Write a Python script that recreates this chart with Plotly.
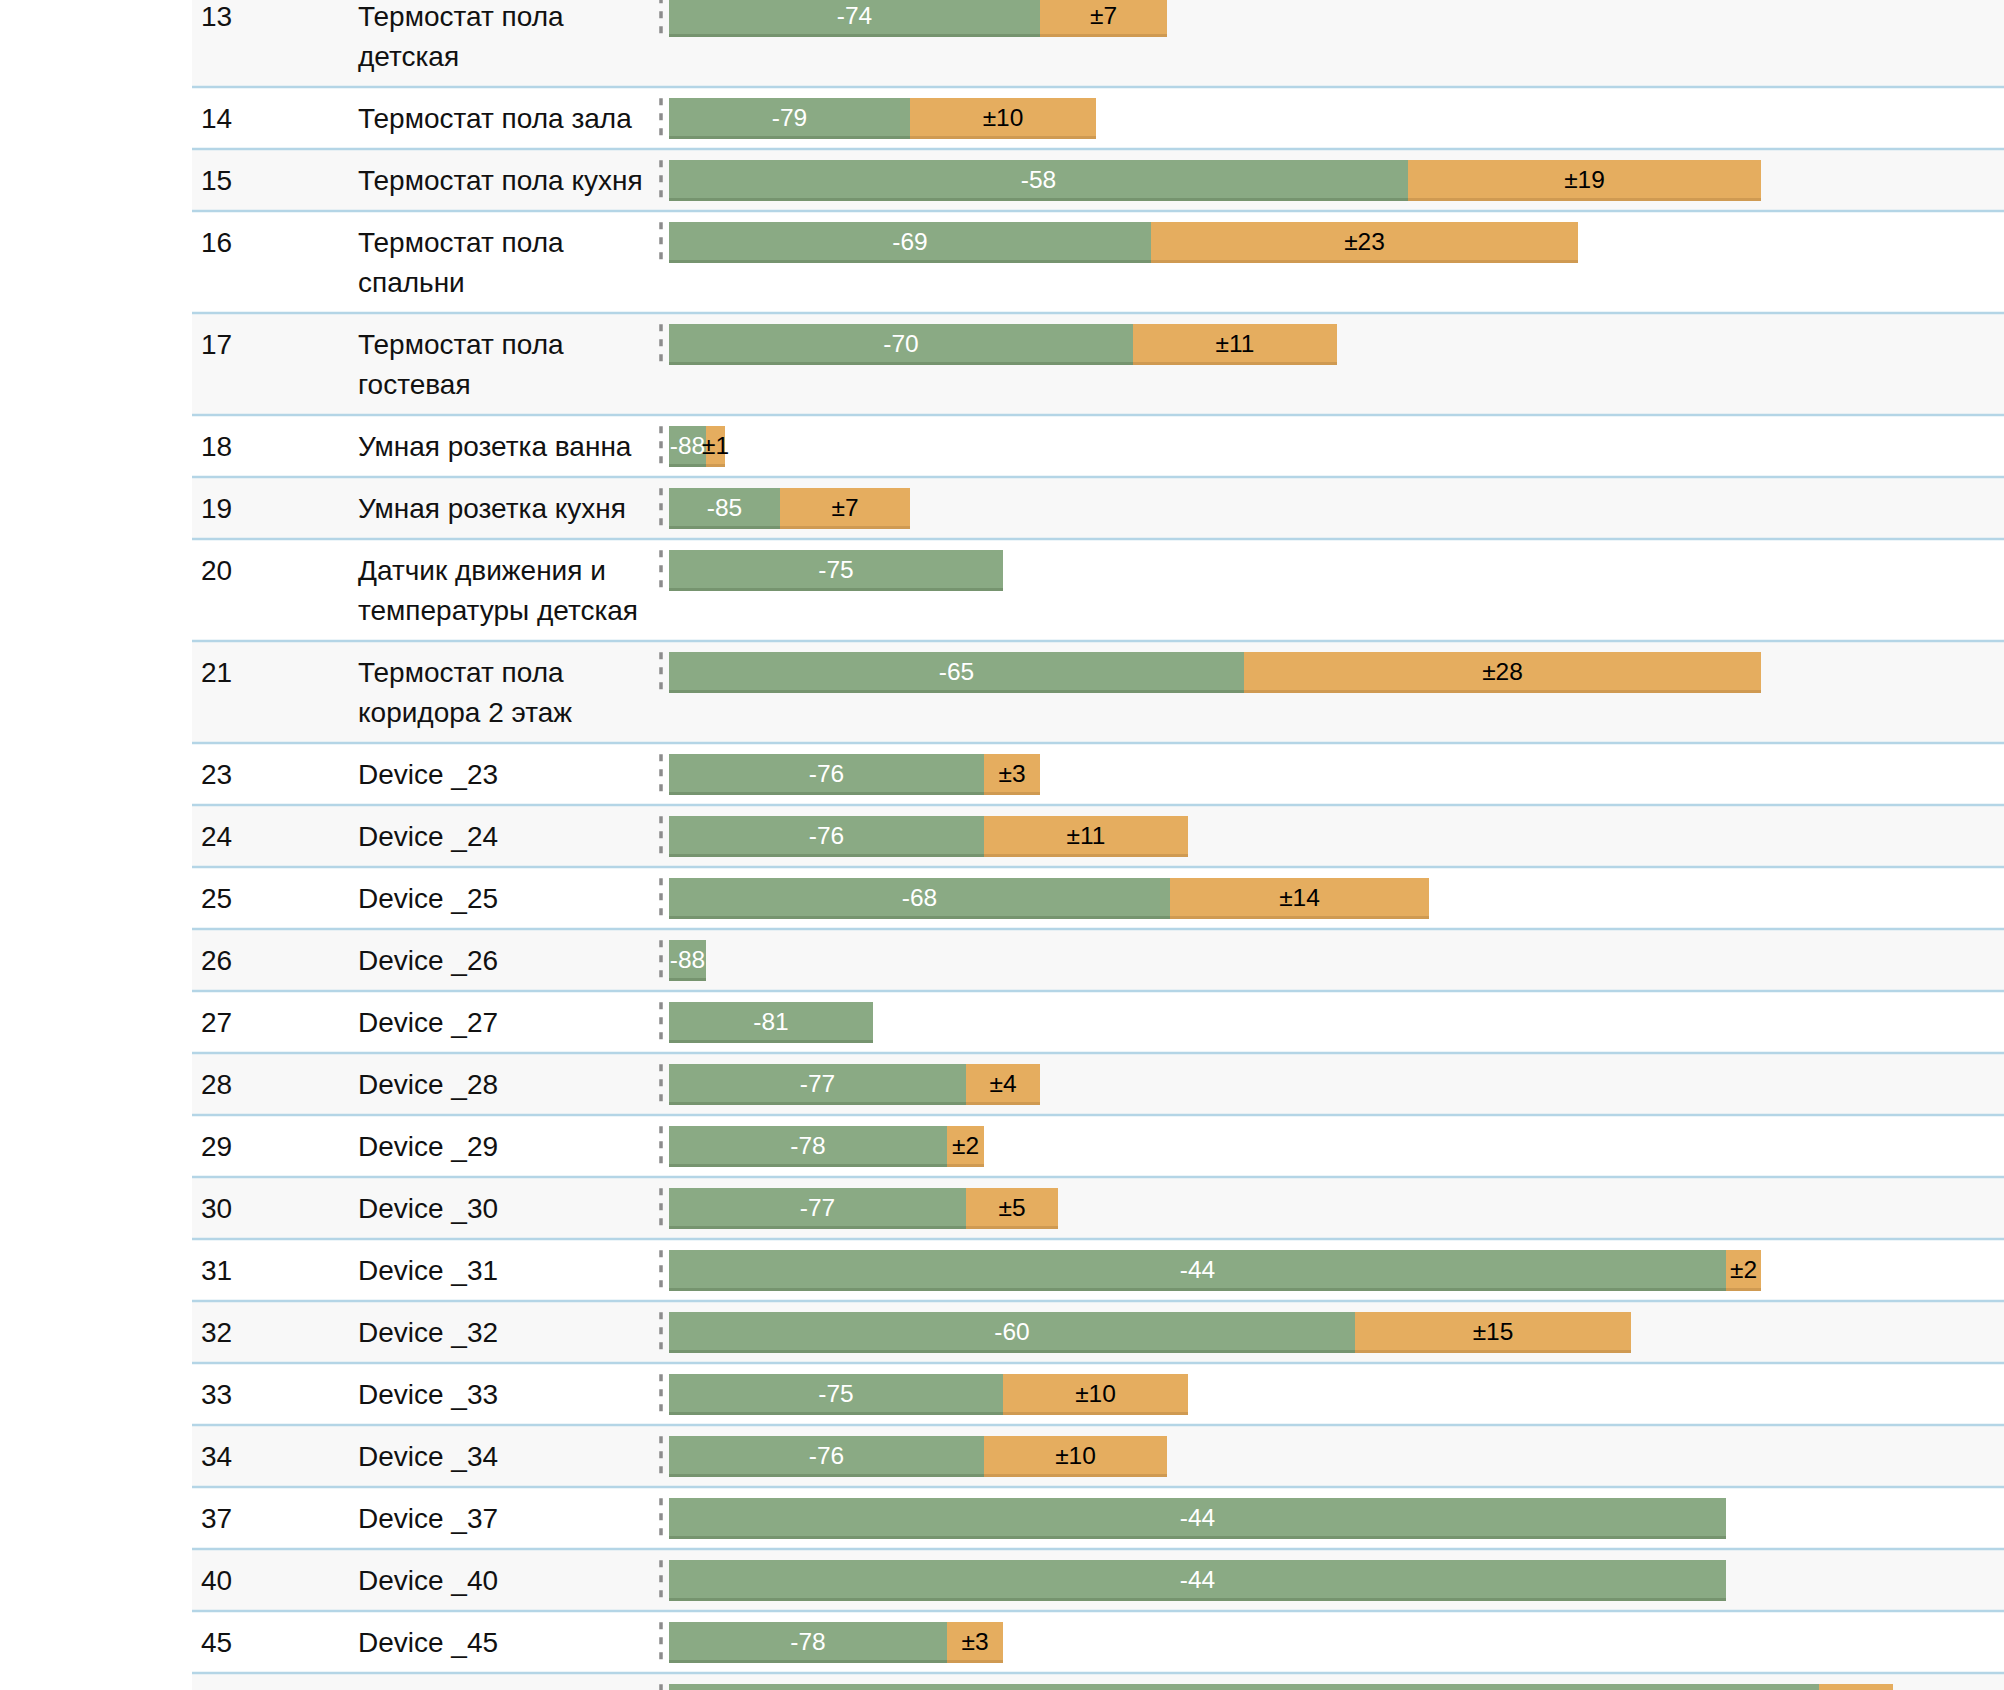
import plotly.graph_objects as go

# ---------------- data ----------------
device_ids = ["13", "14", "15", "16", "17", "18", "19", "20", "21", "23", "24", "25",
              "26", "27", "28", "29", "30", "31", "32", "33", "34", "37", "40", "45", ""]
device_names = [
    "Термостат пола\nдетская",
    "Термостат пола зала",
    "Термостат пола кухня",
    "Термостат пола\nспальни",
    "Термостат пола\nгостевая",
    "Умная розетка ванна",
    "Умная розетка кухня",
    "Датчик движения и\nтемпературы детская",
    "Термостат пола\nкоридора 2 этаж",
    "Device _23", "Device _24", "Device _25", "Device _26", "Device _27",
    "Device _28", "Device _29", "Device _30", "Device _31", "Device _32",
    "Device _33", "Device _34", "Device _37", "Device _40", "Device _45",
    "",
]
rssi_mean = [-73.5, -79.1, -57.6, -68.7, -69.5, -87.9, -84.7, -75.1, -64.7, -75.9,
             -75.9, -67.9, -87.9, -80.7, -76.7, -77.5, -76.7, -43.9, -59.9, -75.1,
             -75.9, -43.9, -43.9, -77.5, -39.9]
rssi_labels = ["-74", "-79", "-58", "-69", "-70", "-88", "-85", "-75", "-65", "-76",
               "-76", "-68", "-88", "-81", "-77", "-78", "-77", "-44", "-60", "-75",
               "-76", "-44", "-44", "-78", ""]
spread_width = [5.5, 8.0, 15.2, 18.4, 8.8, 0.8, 5.6, None, 22.3, 2.4,
                8.8, 11.2, None, None, 3.2, 1.6, 4.0, 1.5, 11.9, 8.0,
                7.9, None, None, 2.4, 3.2]
spread_labels = ["±7", "±10", "±19", "±23", "±11", "±1", "±7", "", "±28", "±3",
                 "±11", "±14", "", "", "±4", "±2", "±5", "±2", "±15", "±10",
                 "±10", "", "", "±3", ""]

FLOOR = -89.5  # left end of the signal bars (dBm)

# ---------------- styling / geometry ----------------
W, H = 2004, 1690
PX_PER_DB = 23.18
BAR_X0_PX = 669
XL = FLOOR - BAR_X0_PX / PX_PER_DB
XR = XL + W / PX_PER_DB

FONT = "Liberation Sans, Arial, Helvetica, sans-serif"
GREEN = "#8aaa84"
GREEN_DK = "#76946f"
ORANGE = "#e5ad5f"
ORANGE_DK = "#cf9a52"
ROW_GRAY = "#f8f8f8"
SEP = "#b4d5e6"
TABLE_X0 = 192
LINE_H = 40
ROW_PAD = 22
FIRST_TOP = -15
BAR_OFF = 11.3
BAR_BODY = 38.0
BAR_BORDER = 2.5

lines_per_row = [n.split("\n") for n in device_names]
row_tops = []
row_heights = []
t = FIRST_TOP
for ln in lines_per_row:
    h = ROW_PAD + LINE_H * len(ln)
    row_tops.append(t)
    row_heights.append(h)
    t += h

fig = go.Figure()

green_len = [m - FLOOR for m in rssi_mean]

fig.add_trace(go.Bar(
    orientation="h", y=row_tops, x=green_len, base=FLOOR,
    offset=BAR_OFF, width=BAR_BODY,
    marker=dict(color=GREEN, line=dict(width=0)),
    text=rssi_labels, textposition="inside", insidetextanchor="middle",
    constraintext="none", textangle=0,
    textfont=dict(family=FONT, size=24.5, color="white"),
    hoverinfo="skip", showlegend=False,
))
fig.add_trace(go.Bar(
    orientation="h", y=row_tops, x=green_len, base=FLOOR,
    offset=BAR_OFF + BAR_BODY, width=BAR_BORDER,
    marker=dict(color=GREEN_DK, line=dict(width=0)),
    hoverinfo="skip", showlegend=False,
))
fig.add_trace(go.Bar(
    orientation="h", y=row_tops, x=spread_width, base=rssi_mean,
    offset=BAR_OFF, width=BAR_BODY,
    marker=dict(color=ORANGE, line=dict(width=0)),
    text=spread_labels, textposition="inside", insidetextanchor="middle",
    constraintext="none", textangle=0,
    textfont=dict(family=FONT, size=24.5, color="black"),
    hoverinfo="skip", showlegend=False,
))
fig.add_trace(go.Bar(
    orientation="h", y=row_tops, x=spread_width, base=rssi_mean,
    offset=BAR_OFF + BAR_BODY, width=BAR_BORDER,
    marker=dict(color=ORANGE_DK, line=dict(width=0)),
    hoverinfo="skip", showlegend=False,
))

shapes = []
annotations = []
for i, (top, h, ln) in enumerate(zip(row_tops, row_heights, lines_per_row)):
    if i % 2 == 0:
        shapes.append(dict(type="rect", layer="below", xref="paper", yref="y",
                           x0=TABLE_X0 / W, x1=1, y0=top, y1=top + h,
                           fillcolor=ROW_GRAY, line=dict(width=0)))
    shapes.append(dict(type="line", layer="above", xref="paper", yref="y",
                       x0=TABLE_X0 / W, x1=1, y0=top + h, y1=top + h,
                       line=dict(color=SEP, width=2.5)))
    shapes.append(dict(type="line", layer="above", xref="paper", yref="y",
                       x0=661 / W, x1=661 / W,
                       y0=top + BAR_OFF, y1=top + BAR_OFF + BAR_BODY + BAR_BORDER,
                       line=dict(color="#8c8c8c", width=3.5, dash="7px,8px")))
    if device_ids[i]:
        annotations.append(dict(xref="paper", yref="y", x=199 / W, y=top + 31,
                                xanchor="left", yanchor="middle", showarrow=False,
                                text=device_ids[i],
                                font=dict(family=FONT, size=28, color="#111111")))
    for j, line in enumerate(ln):
        if line:
            annotations.append(dict(xref="paper", yref="y", x=356 / W,
                                    y=top + 31 + LINE_H * j,
                                    xanchor="left", yanchor="middle", showarrow=False,
                                    text=line,
                                    font=dict(family=FONT, size=28, color="#111111")))

fig.update_layout(
    width=W, height=H,
    margin=dict(l=0, r=0, t=0, b=0, pad=0),
    paper_bgcolor="white", plot_bgcolor="rgba(0,0,0,0)",
    barmode="overlay", bargap=0,
    xaxis=dict(range=[XL, XR], visible=False, fixedrange=True),
    yaxis=dict(range=[H, 0], visible=False, fixedrange=True),
    shapes=shapes, annotations=annotations,
    showlegend=False,
)

fig.write_html(
    "out.html",
    config={"displayModeBar": False},
    post_script="document.body.style.margin='0';document.body.style.padding='0';"
                "document.documentElement.style.overflow='hidden';",
)
